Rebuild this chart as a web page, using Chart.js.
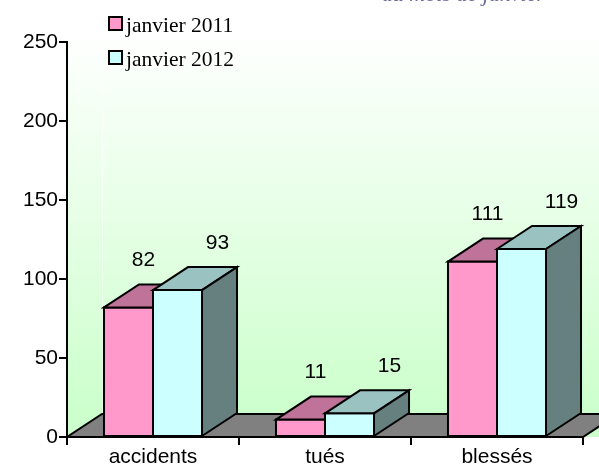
<!DOCTYPE html>
<html>
<head>
<meta charset="utf-8">
<script src="https://cdn.jsdelivr.net/npm/chart.js@4/dist/chart.umd.min.js"></script>
<style>
  html, body { margin: 0; padding: 0; background: #ffffff; }
  #wrap { width: 599px; height: 469px; }
</style>
</head>
<body>
<div id="wrap"><canvas id="c" width="599" height="469"></canvas></div>
<script>
// ---- data ----
const categories = ["accidents", "tués", "blessés"];
const seriesNames = ["janvier 2011", "janvier 2012"];
const values2011 = [82, 11, 111];
const values2012 = [93, 15, 119];
const yTicks = [0, 50, 100, 150, 200, 250];
const titleText = "au mois de janvier";

// ---- styles ----
const DEPTH_X = 35, DEPTH_Y = -23;
const SANS = "'Liberation Sans', Arial, sans-serif";
const faceColors = [
  { front: "#FF99CC", top: "#BF7399", side: "#996080", labelDx: 15 },
  { front: "#CCFFFF", top: "#99C2C0", side: "#668080", labelDx: 40 }
];

const scene3d = {
  id: "scene3d",
  beforeDraw(chart) {
    const { ctx, chartArea: a, scales: { y } } = chart;
    const y0 = y.getPixelForValue(0);
    ctx.save();
    const g = ctx.createLinearGradient(0, 30, 0, y0 + DEPTH_Y);
    g.addColorStop(0, "#ffffff");
    g.addColorStop(1, "#ccffcc");
    ctx.fillStyle = g;
    ctx.fillRect(a.left, 0, chart.width - a.left, y0);
    ctx.strokeStyle = "rgba(255,255,255,0.6)";
    ctx.lineWidth = 1;
    ctx.beginPath();
    ctx.moveTo(a.left + DEPTH_X + 0.5, y.getPixelForValue(250) + DEPTH_Y + 40);
    ctx.lineTo(a.left + DEPTH_X + 0.5, y0 + DEPTH_Y);
    ctx.stroke();
    ctx.restore();
  },
  beforeDatasetsDraw(chart) {
    const { ctx, chartArea: a, scales: { y } } = chart;
    const y0 = y.getPixelForValue(0);
    ctx.save();
    ctx.fillStyle = "#808080";
    ctx.strokeStyle = "#000";
    ctx.lineWidth = 2;
    ctx.lineJoin = "miter";
    ctx.beginPath();
    ctx.moveTo(a.left, y0);
    ctx.lineTo(a.right, y0);
    ctx.lineTo(a.right + DEPTH_X, y0 + DEPTH_Y);
    ctx.lineTo(a.left + DEPTH_X, y0 + DEPTH_Y);
    ctx.closePath();
    ctx.fill();
    ctx.stroke();
    ctx.restore();
  },
  afterDatasetsDraw(chart) {
    const { ctx } = chart;
    const n = chart.data.labels.length;
    ctx.save();
    ctx.lineWidth = 2;
    ctx.strokeStyle = "#000";
    ctx.lineJoin = "miter";
    for (let i = 0; i < n; i++) {
      for (let d = 0; d < chart.data.datasets.length; d++) {
        const bar = chart.getDatasetMeta(d).data[i];
        const p = bar.getProps(["x", "y", "base", "width"], true);
        const l = p.x - p.width / 2, r = p.x + p.width / 2, t = p.y, b = p.base;
        const c = faceColors[d];
        ctx.fillStyle = c.front;
        ctx.beginPath();
        ctx.rect(l, t, r - l, b - t);
        ctx.fill(); ctx.stroke();
        ctx.fillStyle = c.top;
        ctx.beginPath();
        ctx.moveTo(l, t); ctx.lineTo(l + DEPTH_X, t + DEPTH_Y);
        ctx.lineTo(r + DEPTH_X, t + DEPTH_Y); ctx.lineTo(r, t);
        ctx.closePath(); ctx.fill(); ctx.stroke();
        ctx.fillStyle = c.side;
        ctx.beginPath();
        ctx.moveTo(r, t); ctx.lineTo(r + DEPTH_X, t + DEPTH_Y);
        ctx.lineTo(r + DEPTH_X, b + DEPTH_Y); ctx.lineTo(r, b);
        ctx.closePath(); ctx.fill(); ctx.stroke();
      }
    }
    ctx.fillStyle = "#000";
    ctx.font = "21px " + SANS;
    ctx.textAlign = "center";
    ctx.textBaseline = "middle";
    for (let d = 0; d < chart.data.datasets.length; d++) {
      const meta = chart.getDatasetMeta(d);
      meta.data.forEach((bar, i) => {
        const p = bar.getProps(["x", "y"], true);
        ctx.fillText(String(chart.data.datasets[d].data[i]), p.x + faceColors[d].labelDx, p.y - 47);
      });
    }
    ctx.restore();
  },
  afterDraw(chart) {
    const { ctx } = chart;
    ctx.save();
    ctx.font = "21.5px 'Liberation Serif', 'Times New Roman', serif";
    ctx.textBaseline = "alphabetic";
    ctx.textAlign = "left";
    chart.data.datasets.forEach((ds, d) => {
      const sy = 17 + d * 34;
      ctx.fillStyle = faceColors[d].front;
      ctx.strokeStyle = "#000";
      ctx.lineWidth = 2;
      ctx.fillRect(109, sy, 13, 13);
      ctx.strokeRect(109, sy, 13, 13);
      ctx.fillStyle = "#000";
      ctx.fillText(ds.label, 126, sy + 15);
    });
    ctx.font = "italic 22px 'Liberation Serif', 'Times New Roman', serif";
    ctx.fillStyle = "#666699";
    ctx.textAlign = "right";
    ctx.fillText(titleText, 545, 0.8);
    ctx.restore();
  }
};

new Chart(document.getElementById("c"), {
  type: "bar",
  data: {
    labels: categories,
    datasets: [
      { label: seriesNames[0], data: values2011, backgroundColor: faceColors[0].front, borderColor: "#000", borderWidth: 2 },
      { label: seriesNames[1], data: values2012, backgroundColor: faceColors[1].front, borderColor: "#000", borderWidth: 2 }
    ]
  },
  options: {
    responsive: false,
    devicePixelRatio: 1,
    animation: false,
    categoryPercentage: 0.57,
    barPercentage: 1,
    layout: { padding: { left: 0, right: 16, top: 42, bottom: 0 } },
    plugins: { legend: { display: false }, tooltip: { enabled: false } },
    scales: {
      x: {
        offset: true,
        grid: { offset: true, drawOnChartArea: false, drawTicks: true, tickLength: 8, color: "#000", lineWidth: 2 },
        border: { color: "#000", width: 2 },
        ticks: { color: "#000", font: { family: SANS, size: 21 }, padding: 0, maxRotation: 0 },
        afterFit(s) { s.height = 32; }
      },
      y: {
        min: 0, max: 250,
        afterBuildTicks(s) { s.ticks = yTicks.map(v => ({ value: v })); },
        grid: { drawOnChartArea: false, drawTicks: true, tickLength: 8, color: "#000", lineWidth: 2 },
        border: { color: "#000", width: 2 },
        ticks: { color: "#000", font: { family: SANS, size: 21 }, padding: 1 },
        afterFit(s) { s.width = 67; }
      }
    }
  },
  plugins: [scene3d]
});
</script>
</body>
</html>
